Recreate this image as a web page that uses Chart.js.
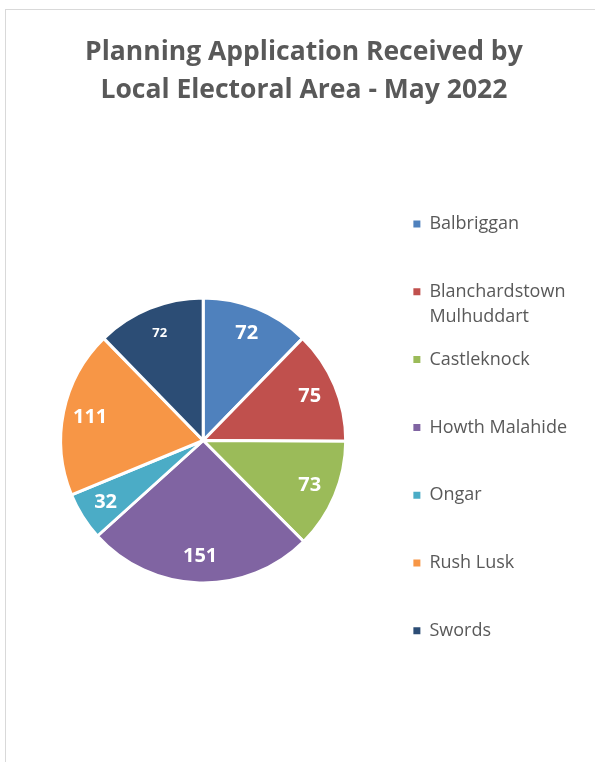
<!DOCTYPE html>
<html>
<head>
<meta charset="utf-8">
<script src="https://cdn.jsdelivr.net/npm/chart.js@4.4.1/dist/chart.umd.min.js"></script>
<style>
  html, body { margin: 0; padding: 0; background: #fff; overflow: hidden; }
  #frame { position: absolute; left: 5px; top: 9px; width: 600px; height: 760px; border: 1px solid #d9d9d9; }
  #box { position: relative; width: 589px; height: 752px; }
</style>
</head>
<body>
<div id="frame"><div id="box"><canvas id="chart"></canvas></div></div>
<script>
const areas = ['Balbriggan', 'Blanchardstown Mulhuddart', 'Castleknock', 'Howth Malahide', 'Ongar', 'Rush Lusk', 'Swords'];
const applications = [72, 75, 73, 151, 32, 111, 72];
const colours = ['#4f81bd', '#c0504d', '#9bbb59', '#8064a2', '#4bacc6', '#f79646', '#2c4d75'];
const titleLines = ['Planning Application Received by', 'Local Electoral Area - May 2022'];

// long names wrap onto a second line, the rest get an empty one so rows stay evenly spaced
const wrap = t => {
  if (t.length <= 16) return [t, ''];
  const cut = t.lastIndexOf(' ');
  return [t.slice(0, cut), t.slice(cut + 1)];
};

const sliceLabels = {
  id: 'sliceLabels',
  afterDatasetsDraw(chart, args, opts) {
    const ctx = chart.ctx;
    const meta = chart.getDatasetMeta(0);
    ctx.save();
    ctx.fillStyle = '#fff';
    ctx.textAlign = 'center';
    ctx.textBaseline = 'middle';
    meta.data.forEach((arc, i) => {
      const p = arc.getProps(['x', 'y', 'startAngle', 'endAngle', 'outerRadius'], true);
      const mid = (p.startAngle + p.endAngle) / 2;
      const r = p.outerRadius * opts.radius;
      ctx.font = 'bold ' + opts.sizes[i] + "px 'Open Sans'";
      ctx.fillText(chart.data.datasets[0].data[i], p.x + Math.cos(mid) * r, p.y + Math.sin(mid) * r);
    });
    ctx.restore();
  }
};

const titleShift = {
  id: 'titleShift',
  afterLayout(chart, args, opts) {
    chart.titleBlock.left += opts.dx;
    chart.titleBlock.right += opts.dx;
  }
};

const baseLabels = Chart.overrides.doughnut.plugins.legend.labels.generateLabels;

new Chart(document.getElementById('chart'), {
  type: 'pie',
  data: {
    labels: areas,
    datasets: [{
      data: applications,
      backgroundColor: colours,
      borderColor: '#fff',
      borderWidth: 3
    }]
  },
  options: {
    responsive: true,
    maintainAspectRatio: false,
    animation: false,
    radius: 142.5,
    layout: { padding: { left: 4.8, right: 18, top: 0, bottom: 72.4 } },
    plugins: {
      tooltip: { enabled: false },
      title: {
        display: true,
        text: titleLines,
        color: '#595959',
        font: { family: 'Open Sans', size: 26.5, weight: 'bold', lineHeight: '38px' },
        padding: { top: 23.5, bottom: 81.9 }
      },
      legend: {
        position: 'right',
        align: 'end',
        labels: {
          boxWidth: 7,
          boxHeight: 7,
          padding: 17.8,
          color: '#595959',
          font: { family: 'Open Sans', size: 18, lineHeight: '25px' },
          generateLabels: chart => baseLabels(chart).map(item => {
            item.text = wrap(item.text);
            item.lineWidth = 0;
            return item;
          })
        }
      },
      sliceLabels: { radius: 0.81, sizes: [20, 20, 20, 20, 20, 20, 13] },
      titleShift: { dx: 10 }
    }
  },
  plugins: [sliceLabels, titleShift]
});
</script>
</body>
</html>
